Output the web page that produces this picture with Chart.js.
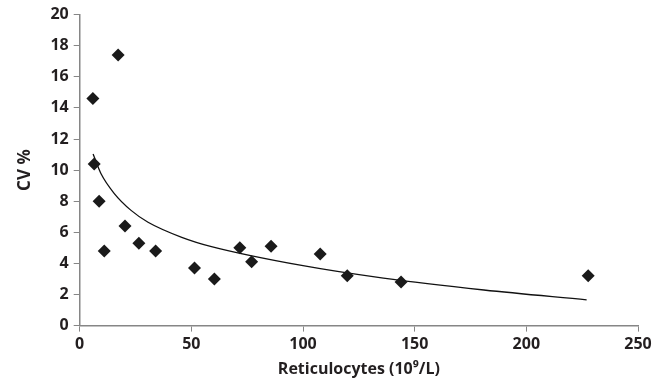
<!DOCTYPE html>
<html>
<head>
<meta charset="utf-8">
<script src="https://cdn.jsdelivr.net/npm/chart.js@4/dist/chart.umd.min.js"></script>
<style>
  html, body { margin: 0; padding: 0; background: #fff; }
  .wrap { width: 660px; height: 385px; position: relative; }
</style>
</head>
<body>
<div class="wrap"><canvas id="cvChart"></canvas></div>
<script>
// measured points: reticulocytes (10^9/L) vs CV %
const retic = [5.9, 6.5, 8.7, 11.0, 17.2, 20.3, 26.5, 34.0, 51.4, 60.3, 71.7, 77.0, 85.7, 107.7, 119.8, 143.9, 227.7];
const cv    = [14.6, 10.4, 8.0, 4.8, 17.4, 6.4, 5.3, 4.8, 3.7, 3.0, 5.0, 4.1, 5.1, 4.6, 3.2, 2.8, 3.2];

// trend curve
const trendX = [6, 9.5, 15.5, 23, 30.6, 45.7, 59, 100, 136, 181, 227];
const trendY = [11.03, 9.78, 8.49, 7.41, 6.65, 5.68, 5.08, 3.85, 3.05, 2.29, 1.66];

const xTicks = [0, 50, 100, 150, 200, 250];
const yTicks = [0, 2, 4, 6, 8, 10, 12, 14, 16, 18, 20];

(function(){
  if(typeof Chart === 'undefined') return;
  const el = document.getElementById('cvChart');

  const axisColor = '#868686';
  const textColor = '#231f20';
  const font = (size)=> ({ family: '"Open Sans", Lato, sans-serif', size, weight: 'bold' });

  new Chart(el, {
    type: 'scatter',
    data: {
      datasets: [
        {
          label: 'CV',
          data: retic.map((x,i)=> ({ x, y: cv[i] })),
          pointStyle: 'rectRot',
          pointRadius: 6.5,
          pointHoverRadius: 6.5,
          backgroundColor: '#1a1a1a',
          borderColor: '#1a1a1a',
          borderWidth: 0,
          order: 1
        },
        {
          label: 'Trend',
          type: 'line',
          data: trendX.map((x,i)=> ({ x, y: trendY[i] })),
          borderColor: '#111',
          borderWidth: 1.3,
          pointRadius: 0,
          fill: false,
          cubicInterpolationMode: 'monotone',
          order: 2
        }
      ]
    },
    options: {
      responsive: true,
      maintainAspectRatio: false,
      animation: false,
      layout: { padding: { left: 15, right: 22, top: 8, bottom: 6 } },
      plugins: { legend: { display: false }, tooltip: { enabled: false } },
      scales: {
        x: {
          type: 'linear',
          min: 0, max: 250,
          afterBuildTicks: (axis)=> { axis.ticks = xTicks.map(v=> ({ value: v })); },
          grid: { drawOnChartArea: false, drawTicks: true, tickLength: 6, color: axisColor },
          border: { color: axisColor, width: 1.5 },
          ticks: { color: textColor, font: font(16), padding: 3 },
          title: { display: true, text: 'Reticulocytes (10⁹/L)', color: textColor, font: font(16), padding: { top: 3, bottom: 0 } }
        },
        y: {
          type: 'linear',
          min: 0, max: 20,
          afterBuildTicks: (axis)=> { axis.ticks = yTicks.map(v=> ({ value: v })); },
          grid: { drawOnChartArea: false, drawTicks: true, tickLength: 6, color: axisColor },
          border: { color: axisColor, width: 1.5 },
          ticks: { color: textColor, font: font(16), padding: 5 },
          title: { display: true, text: 'CV %', color: textColor, font: font(17), padding: { top: 0, bottom: 10 } }
        }
      }
    }
  });
})();
</script>
</body>
</html>
